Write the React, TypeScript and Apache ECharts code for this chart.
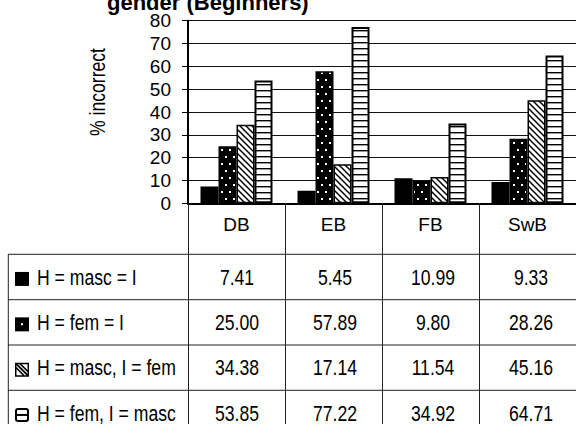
import React, { useEffect, useRef } from "react";
import * as echarts from "echarts";

const categories = ["DB", "EB", "FB", "SwB"];
const seriesNames = ["H = masc = I", "H = fem = I", "H = masc, I = fem", "H = fem, I = masc"];
const mascMasc = [7.41, 5.45, 10.99, 9.33];
const femFem = [25.0, 57.89, 9.8, 28.26];
const mascFem = [34.38, 17.14, 11.54, 45.16];
const femMasc = [53.85, 77.22, 34.92, 64.71];
const yMin = 0;
const yMax = 80;
const yInterval = 10;
const titleText = "gender (Beginners)";
const yAxisTitle = "% incorrect";

const FONT = "'Liberation Sans Narrow', 'Arial Narrow', 'Liberation Sans', Arial, sans-serif";
const NARROW = 0.8;

function makeTile(w: number, h: number, draw: (ctx: CanvasRenderingContext2D) => void) {
  const c = document.createElement("canvas");
  c.width = w;
  c.height = h;
  const ctx = c.getContext("2d") as CanvasRenderingContext2D;
  draw(ctx);
  return { image: c, repeat: "repeat", imageWidth: w, imageHeight: h } as any;
}

export default function App() {
  const ref = useRef<HTMLDivElement>(null);
  useEffect(() => {
    if (!ref.current) return;
    const chart = echarts.init(ref.current, undefined, { renderer: "svg" });

    const dots = makeTile(8, 14, (ctx) => {
      ctx.fillStyle = "#000";
      ctx.fillRect(0, 0, 8, 14);
      ctx.fillStyle = "#fff";
      ctx.fillRect(1, 2, 2, 2);
      ctx.fillRect(5, 9, 2, 2);
    });
    const hatch = makeTile(6, 6, (ctx) => {
      ctx.fillStyle = "#fff";
      ctx.fillRect(0, 0, 6, 6);
      ctx.strokeStyle = "#000";
      ctx.lineWidth = 1.5;
      for (const k of [-6, 0, 6]) {
        ctx.beginPath();
        ctx.moveTo(k - 1, -1);
        ctx.lineTo(k + 7, 7);
        ctx.stroke();
      }
    });
    const stripes = makeTile(6, 6, (ctx) => {
      ctx.fillStyle = "#fff";
      ctx.fillRect(0, 0, 6, 6);
      ctx.fillStyle = "#000";
      ctx.fillRect(0, 0, 6, 1.4);
    });

    const gridLeft = 188;
    const gridTop = 20.7;
    const gridW = 392;
    const gridH = 182.6;
    const catW = gridW / categories.length;
    const rowTops = [254.3, 299.7, 345, 390.3];
    const rowH = 45.3;
    const allSeries = [mascMasc, femFem, mascFem, femMasc];
    const fills: any[] = ["#000", dots, hatch, stripes];
    const borderWidths = [1.5, 1.5, 1.5, 2];

    const graphics: any[] = [];
    // title (partly cut at top)
    graphics.push({
      type: "text",
      x: 107,
      y: 2,
      style: {
        text: titleText,
        font: "bold 22px 'Liberation Sans', Arial, sans-serif",
        fill: "#000",
        align: "left",
        verticalAlign: "middle",
      },
    });
    // y axis title
    graphics.push({
      type: "text",
      x: 97,
      y: 92,
      rotation: Math.PI / 2,
      scaleX: NARROW,
      style: {
        text: yAxisTitle,
        fontSize: 22,
        fontFamily: FONT,
        fill: "#000",
        align: "center",
        verticalAlign: "middle",
      },
    });
    // table horizontal lines
    rowTops.forEach((t) => {
      graphics.push({
        type: "line",
        shape: { x1: 8, y1: t, x2: 576, y2: t },
        style: { stroke: "#222", lineWidth: 1 },
      });
    });
    graphics.push({
      type: "line",
      shape: { x1: 8.3, y1: rowTops[0], x2: 8.3, y2: 424 },
      style: { stroke: "#222", lineWidth: 1 },
    });
    // legend symbols and names, values
    seriesNames.forEach((name, r) => {
      const cy = rowTops[r] + rowH / 2;
      const sx = 15;
      const sy = cy - 5;
      const s = 14;
      if (r === 0) {
        graphics.push({ type: "rect", shape: { x: sx, y: sy, width: s, height: s }, style: { fill: "#000" } });
      } else if (r === 1) {
        graphics.push({ type: "rect", shape: { x: sx, y: sy, width: s, height: s }, style: { fill: "#000" } });
        graphics.push({ type: "rect", shape: { x: sx + 6, y: sy + 6, width: 2, height: 2 }, style: { fill: "#fff" } });
      } else if (r === 2) {
        graphics.push({ type: "rect", shape: { x: sx + 0.75, y: sy + 0.75, width: s - 1.5, height: s - 1.5 }, style: { fill: "#fff", stroke: "#000", lineWidth: 1.5 } });
        graphics.push({ type: "line", shape: { x1: sx + 1, y1: sy + 1, x2: sx + s - 1, y2: sy + s - 1 }, style: { stroke: "#000", lineWidth: 2 } });
        graphics.push({ type: "line", shape: { x1: sx + 5, y1: sy + 1, x2: sx + s - 1, y2: sy + s - 5 }, style: { stroke: "#000", lineWidth: 1.5 } });
        graphics.push({ type: "line", shape: { x1: sx + 1, y1: sy + 5, x2: sx + s - 5, y2: sy + s - 1 }, style: { stroke: "#000", lineWidth: 1.5 } });
      } else {
        graphics.push({ type: "rect", shape: { x: sx + 1, y: sy + 1, width: s - 2, height: s - 2, r: 2 }, style: { fill: "#fff", stroke: "#000", lineWidth: 2 } });
        graphics.push({ type: "line", shape: { x1: sx + 1, y1: sy + s / 2, x2: sx + s - 1, y2: sy + s / 2 }, style: { stroke: "#000", lineWidth: 2 } });
      }
      graphics.push({
        type: "text",
        x: 37,
        y: cy,
        scaleX: NARROW,
        style: { text: name, fontSize: 22, fontFamily: FONT, fill: "#000", align: "left", verticalAlign: "middle" },
      });
      allSeries[r].forEach((v, c) => {
        graphics.push({
          type: "text",
          x: gridLeft + catW * (c + 0.5),
          y: cy,
          scaleX: NARROW,
          style: { text: v.toFixed(2), fontSize: 22, fontFamily: FONT, fill: "#000", align: "center", verticalAlign: "middle" },
        });
      });
    });

    chart.setOption({
      animation: false,
      backgroundColor: "#fff",
      grid: { left: gridLeft, top: gridTop, width: gridW, height: gridH, containLabel: false },
      xAxis: {
        type: "category",
        data: categories,
        boundaryGap: true,
        axisLine: { show: true, lineStyle: { color: "#000", width: 2 } },
        axisTick: { show: true, alignWithLabel: false, length: 230, lineStyle: { color: "#222", width: 1 } },
        axisLabel: { show: true, color: "#000", fontSize: 19, fontFamily: FONT, margin: 12 },
        splitLine: { show: false },
      },
      yAxis: {
        type: "value",
        min: yMin,
        max: yMax,
        interval: yInterval,
        axisLine: { show: true, lineStyle: { color: "#000", width: 2 } },
        axisTick: { show: true, inside: false, length: 6, lineStyle: { color: "#000", width: 1 } },
        axisLabel: { show: true, color: "#000", fontSize: 19, fontFamily: FONT, margin: 17 },
        splitLine: { show: true, lineStyle: { color: "#111", width: 1 } },
      },
      series: allSeries.map((d, i) => ({
        type: "bar",
        name: seriesNames[i],
        data: d,
        barWidth: 18,
        barGap: "0%",
        itemStyle: { color: fills[i], borderColor: "#000", borderWidth: borderWidths[i] },
        emphasis: { disabled: true },
      })),
      graphic: graphics,
    });

    return () => chart.dispose();
  }, []);
  return (
    <div
      ref={ref}
      style={{ position: "absolute", left: 0, top: 0, width: 576, height: 424, background: "#fff" }}
    />
  );
}
